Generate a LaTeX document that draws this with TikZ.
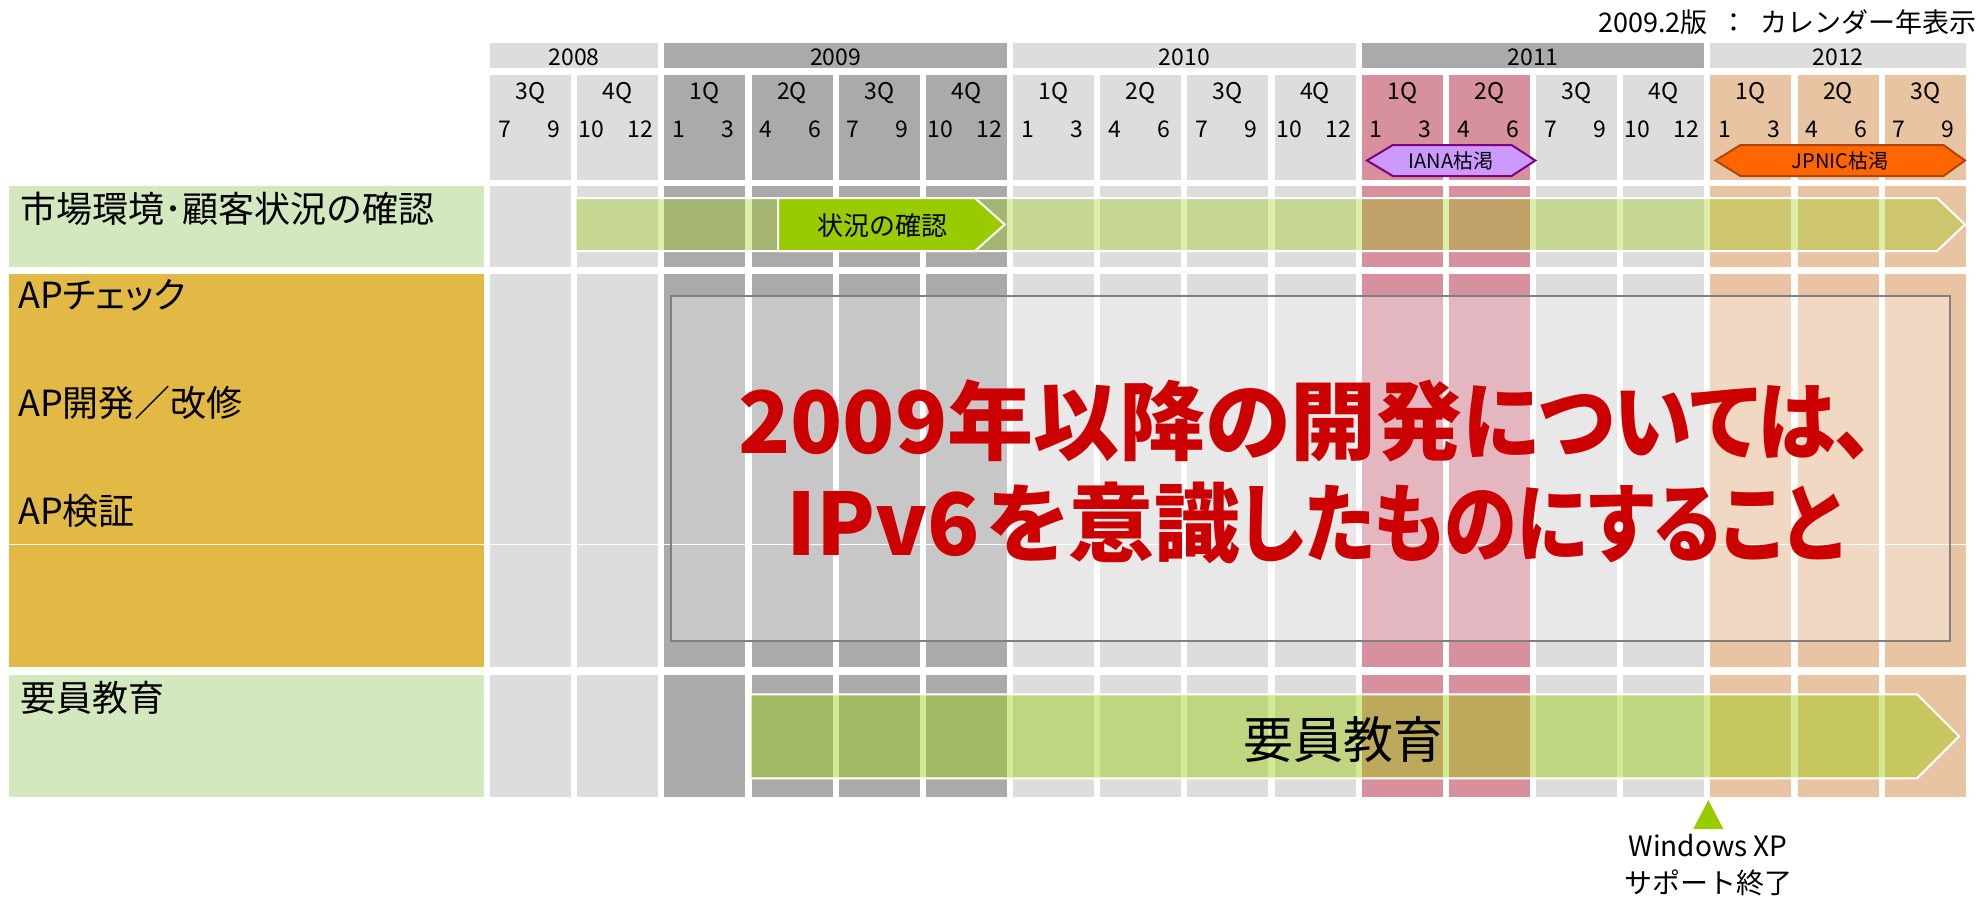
\documentclass[tikz,border=0pt]{standalone}
\usepackage{fontspec}
\usepackage{graphicx}
\setmainfont{Noto Sans CJK JP}
\newfontfamily\pfont{Noto Sans CJK JP}[RawFeature=+palt]
\usetikzlibrary{calc}
\definecolor{cL}{RGB}{221,221,221}
\definecolor{cD}{RGB}{170,170,170}
\definecolor{cP}{RGB}{214,144,158}
\definecolor{cE}{RGB}{232,196,162}
\definecolor{lgreen}{RGB}{211,232,190}
\definecolor{apyel}{RGB}{226,185,69}
\definecolor{agreen}{RGB}{153,204,0}
\definecolor{violetfill}{RGB}{204,153,255}
\definecolor{vborder}{RGB}{128,0,128}
\definecolor{jorange}{RGB}{255,102,0}
\definecolor{jborder}{RGB}{176,70,10}
\definecolor{bigred}{RGB}{204,0,0}
\definecolor{boxgray}{RGB}{128,128,128}
\newcommand\fsz[1]{\fontsize{#1}{#1}\selectfont}
\tikzset{
  hdr/.style={anchor=base, font=\fsz{23}, inner sep=0pt},
  lab/.style={anchor=base west, font=\fsz{36}, inner sep=0pt},
  patarrow/.style={fill=agreen, fill opacity=#1, draw=white, line width=2pt},
  patarrow/.default=0.4,
  solidarrow/.style={fill=agreen, draw=white, line width=2pt},
  bigtxt/.style={anchor=base west, font=\pfont\bfseries\fsz{86}, text=bigred, inner sep=0pt},
}
\begin{document}
\begin{tikzpicture}[x=1pt,y=-1pt]
\useasboundingbox (0,0) rectangle (1977,899);
\fill[white] (0,0) rectangle (1977,899);

% columns
\foreach \i/\c in {0/cL,1/cL,2/cD,3/cD,4/cD,5/cD,6/cL,7/cL,8/cL,9/cL,10/cP,11/cP,12/cL,13/cL,14/cE,15/cE,16/cE}{
  \pgfmathsetmacro\l{490+87.17*\i}
  \pgfmathsetmacro\r{\l+81}
  \pgfmathsetmacro\cx{\l+40.5}
  \pgfmathtruncatemacro\q{mod(\i+2,4)+1}
  \pgfmathtruncatemacro\ma{3*\q-2}
  \pgfmathtruncatemacro\mb{3*\q}
  \fill[\c] (\l,75) rectangle (\r,180);
  \fill[\c] (\l,186) rectangle (\r,266.7);
  \fill[\c] (\l,274) rectangle (\r,667.3);
  \fill[\c] (\l,675) rectangle (\r,797.3);
  \node[hdr] (q\i) at (\cx,99) {\q Q};
  \node[hdr] (ma\i) at (\cx-26,137.3) {\ma};
  \node[hdr] (mb\i) at (\cx+23,137.3) {\mb};
}

% year bars
\fill[cL] (490,43.3) rectangle (658.2,67.7);
\fill[cD] (664.3,43.3) rectangle (1006.9,67.7);
\fill[cL] (1013,43.3) rectangle (1355.5,67.7);
\fill[cD] (1361.7,43.3) rectangle (1704.2,67.7);
\fill[cL] (1710.4,43.3) rectangle (1965.7,67.7);
\node[hdr] (y2008) at (574.1,65.5) {2008};
\node[hdr] (y2009) at (835.6,65.5) {2009};
\node[hdr] (y2010) at (1184.3,65.5) {2010};
\node[hdr] (y2011) at (1533,65.5) {2011};
\node[hdr] (y2012) at (1838,65.5) {2012};

% title
\node[anchor=base east, font=\fsz{27}, inner sep=0pt] (title) at (1977,33)
  {2009.2版\hspace{13pt}：\hspace{13pt}カレンダー年表示};

% label boxes
\fill[lgreen] (9,185.7) rectangle (484,266.7);
\fill[apyel] (9,274) rectangle (484,667.3);
\fill[lgreen] (9,675) rectangle (484,797.3);
\draw[white, line width=1pt] (9,544.3) -- (1966,544.3);

\node[lab] (lab1) at (20,222) {市場環境･顧客状況の確認};
\node[lab] (lab2) at (18,308) {\pfont APチェック};
\node[lab] (lab3) at (18,416) {AP開発／改修};
\node[lab] (lab4) at (18,524) {AP検証};
\node[lab] (lab5) at (20,711) {要員教育};

% row 1 arrows
\filldraw[patarrow=0.33] (575,198) -- (1937,198) -- (1965,224.5) -- (1937,251) -- (575,251) -- cycle;
\filldraw[solidarrow] (778,198) -- (975,198) -- (1004.7,224.5) -- (975,251) -- (778,251) -- cycle;
\node[font=\fsz{26}, inner sep=0pt] (chk) at (882,226) {状況の確認};

% overlay box
\filldraw[fill=white, fill opacity=0.35, draw=boxgray, line width=2.5pt] (671,296) rectangle (1950,641);
\node[bigtxt] (big1) at (738,453.3) {2009年以降の開発\scalebox{0.92}[1]{については、}};
\node[bigtxt] (big2) at (786,555) {IPv6\hspace{6pt}を意識\scalebox{0.85}[1]{したものにすること}};

% row 3 arrow
\filldraw[patarrow=0.42] (750,694.3) -- (1917,694.3) -- (1959,736.3) -- (1917,778.3) -- (750,778.3) -- cycle;
\node[font=\fsz{50}, inner sep=0pt] (edu) at (1343,740) {要員教育};

% exhaustion markers
\filldraw[fill=violetfill, draw=vborder, line width=2pt] (1367,160.5) -- (1392.8,145) -- (1511.6,145) -- (1535.3,160.5) -- (1511.6,176) -- (1392.8,176) -- cycle;
\node[font=\fsz{20}, inner sep=0pt] (iana) at (1451,161) {IANA枯渇};
\filldraw[fill=jorange, draw=jborder, line width=2pt] (1715.4,160.5) -- (1740.4,145) -- (1943.4,145) -- (1965,160.5) -- (1943.4,176) -- (1740.4,176) -- cycle;
\node[font=\fsz{20}, inner sep=0pt] (jpnic) at (1840,161) {JPNIC枯渇};

% Windows XP marker
\fill[agreen] (1708.3,800) -- (1723.3,829) -- (1693.3,829) -- cycle;
\node[anchor=base, font=\fsz{28}, inner sep=0pt] (xp1) at (1708,856.7) {Windows XP};
\node[anchor=base, font=\fsz{28}, inner sep=0pt] (xp2) at (1708,893) {サポート終了};
\end{tikzpicture}
\end{document}
